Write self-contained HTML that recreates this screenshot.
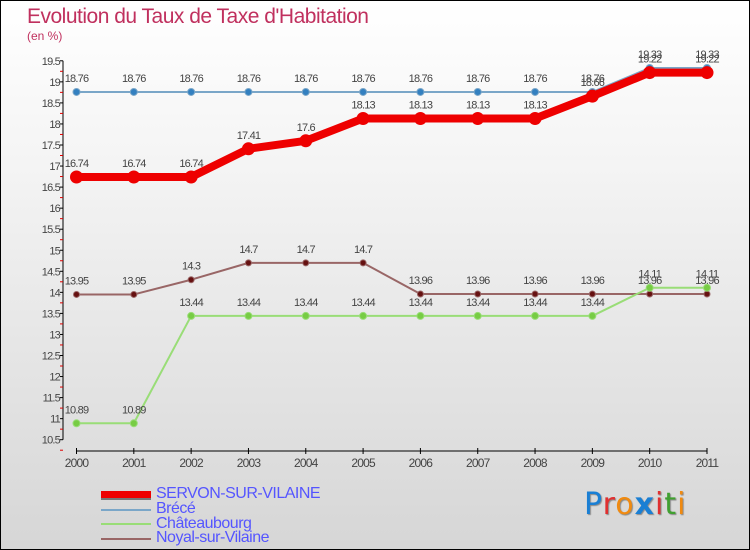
<!DOCTYPE html>
<html><head><meta charset="utf-8"><style>
body{margin:0}
#c{position:relative;width:748px;height:548px;border:1px solid #000;background:linear-gradient(#ffffff,#f4f4f4 30%,#d6d6d6);overflow:hidden;font-family:"Liberation Sans",sans-serif}
.t{position:absolute;left:26px;top:4px;font-size:21px;color:#c0305e;letter-spacing:-0.5px}
.s{position:absolute;left:26px;top:28px;font-size:12px;color:#c0305e}
.leg{position:absolute;left:155px;font-size:16px;color:#5555ff;letter-spacing:-0.5px;line-height:15px}
.sw{position:absolute;left:100px;width:50px}
</style></head><body>
<div id="c">
<div class="t">Evolution du Taux de Taxe d'Habitation</div>
<div class="s">(en %)</div>
<svg id="g" width="748" height="548" style="position:absolute;left:0;top:0"></svg>
<div class="sw" style="top:490px;height:7px;background:#e00;border-bottom:2px solid #777"></div>
<div class="leg" style="top:485px">SERVON-SUR-VILAINE</div>
<div class="sw" style="top:508px;height:2px;background:#7aa6c8"></div>
<div class="leg" style="top:500px">Brécé</div>
<div class="sw" style="top:522px;height:2px;background:#99dd77"></div>
<div class="leg" style="top:515px">Châteaubourg</div>
<div class="sw" style="top:537px;height:2px;background:#996666"></div>
<div class="leg" style="top:529px">Noyal-sur-Vilaine</div>
<div style="position:absolute;left:583px;top:486px;font-size:30px;font-family:'DejaVu Sans',sans-serif;letter-spacing:1px;text-shadow:1px 1px 1px #888"><span style="color:#1a7fd4">P</span><span style="color:#e03030">r</span><span style="color:#f08a10">o</span><span style="color:#1a7fd4;font-weight:bold">x</span><span style="color:#e03030">i</span><span style="color:#40a030">t</span><span style="color:#f08a10">i</span></div>
</div>
<script>
const years=[2000,2001,2002,2003,2004,2005,2006,2007,2008,2009,2010,2011];
const servon=[16.74,16.74,16.74,17.41,17.6,18.13,18.13,18.13,18.13,18.66,19.22,19.22];
const brece=[18.76,18.76,18.76,18.76,18.76,18.76,18.76,18.76,18.76,18.76,19.33,19.33];
const chateau=[10.89,10.89,13.44,13.44,13.44,13.44,13.44,13.44,13.44,13.44,14.11,14.11];
const noyal=[13.95,13.95,14.3,14.7,14.7,14.7,13.96,13.96,13.96,13.96,13.96,13.96];
const yTicks=[10.5,11,11.5,12,12.5,13,13.5,14,14.5,15,15.5,16,16.5,17,17.5,18,18.5,19,19.5];
const NS='http://www.w3.org/2000/svg';const g=document.getElementById('g');
const x=i=>75.5+i*(706-75.5)/11;const y=v=>59.8+(19.5-v)*42.1;
function el(t,a,txt){const e=document.createElementNS(NS,t);for(const k in a)e.setAttribute(k,a[k]);if(txt!==undefined)e.textContent=txt;g.appendChild(e);return e;}
let e=el('line',{x1:62,y1:y(19.5),x2:62,y2:y(10.5),stroke:'#000'});

e=el('line',{x1:x(0),y1:450,x2:x(11),y2:450,stroke:'#000'});

yTicks.forEach(v=>{el('line',{x1:59,x2:62,y1:y(v),y2:y(v),stroke:'#000'});el('line',{x1:59,x2:62,y1:y(v)+10.5,y2:y(v)+10.5,stroke:'#d00'});
e=el('text',{x:59,y:y(v)+4,'text-anchor':'end','font-size':11,fill:'#444','letter-spacing':'-0.8'},v);
});
years.forEach((yr,i)=>{el('line',{x1:x(i),x2:x(i),y1:447,y2:453,stroke:'#000'});
e=el('text',{x:x(i),y:466,'text-anchor':'middle','font-size':12,fill:'#444','letter-spacing':'-0.8'},yr);
});
function series(d,col,w,r,dot,name){
e=el('polyline',{points:d.map((v,i)=>x(i)+','+y(v)).join(' '),fill:'none',stroke:col,'stroke-width':w,'stroke-linejoin':'round'});

d.forEach((v,i)=>{e=el('circle',{cx:x(i),cy:y(v),r:r,fill:dot,stroke:col});

e=el('text',{x:x(i),y:y(v)-10,'text-anchor':'middle','font-size':11,fill:'#444','letter-spacing':'-0.8'},v);
});}
series(noyal,'#996666',2,3,'#661111','noyal');
series(chateau,'#99dd77',2,3.5,'#77cc44','chateaubourg');
series(brece,'#7aa6c8',2,3.5,'#3380c0','brece');
series(servon,'#ee0000',8,6,'#ee0000','servon');
</script>
</body></html>
